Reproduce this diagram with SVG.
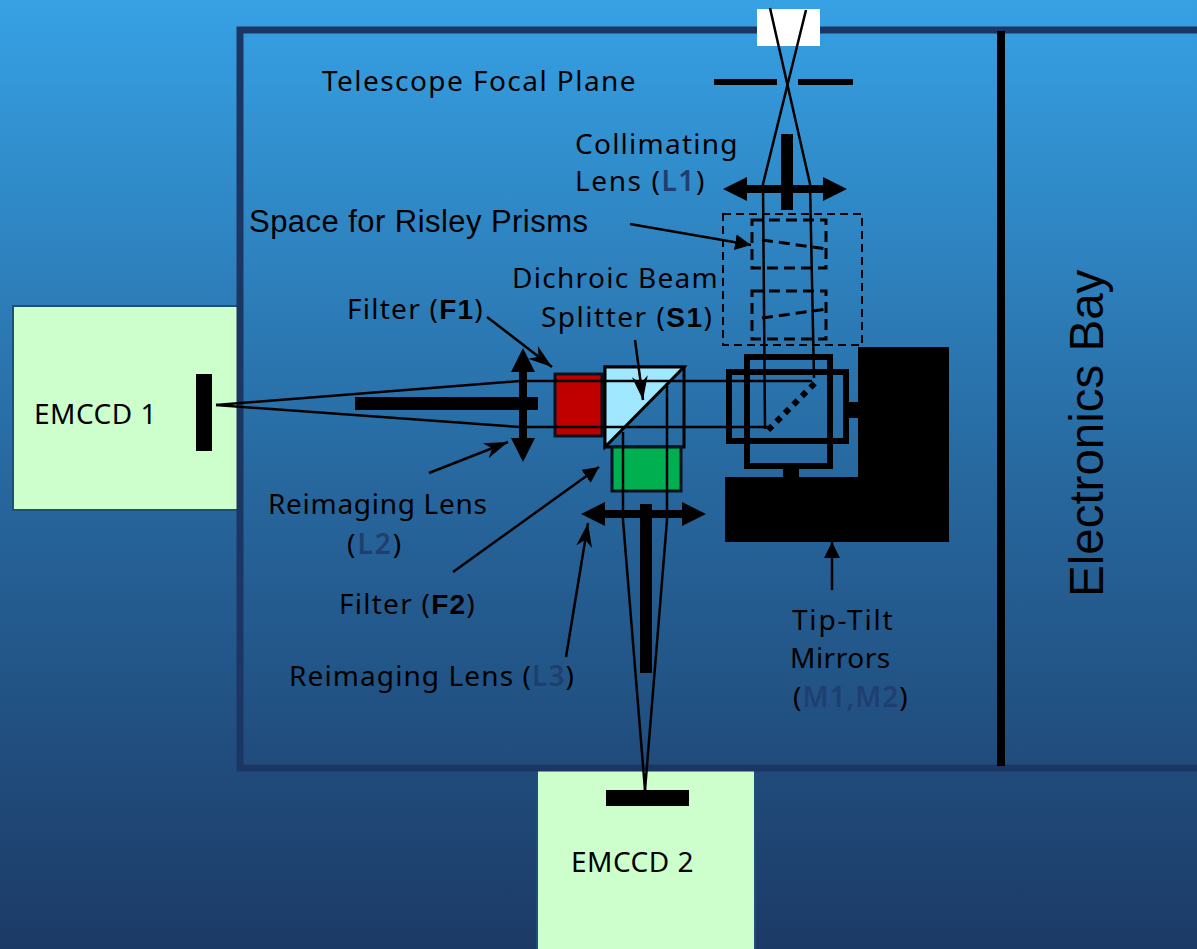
<svg xmlns="http://www.w3.org/2000/svg" width="1197" height="949" viewBox="0 0 1197 949">
<defs>
<linearGradient id="bg" x1="0" y1="0" x2="0" y2="1"><stop offset="0" stop-color="#36a1e4"/><stop offset="0.5" stop-color="#27689f"/><stop offset="1" stop-color="#1c3a66"/></linearGradient>
<marker id="ah" markerUnits="userSpaceOnUse" markerWidth="26" markerHeight="20" refX="24" refY="9" orient="auto"><path d="M0,1L24,9L0,17L7,9Z" fill="#000"/></marker>
<marker id="tr" markerUnits="userSpaceOnUse" markerWidth="18" markerHeight="18" refX="16" refY="8" orient="auto"><path d="M0,0L16,8L0,16Z" fill="#000"/></marker>
</defs>
<style>
text{font-family:"Noto Sans","Open Sans",sans-serif;font-size:28px;fill:#000;letter-spacing:1.25px}
.a{font-family:"Liberation Sans",Arial,sans-serif;letter-spacing:0}
.b{font-weight:700;font-family:"Liberation Sans",Arial,sans-serif}
.n{fill:#1f3f70;font-weight:600}
.k{fill:#000;stroke:none}
.beam{fill:none;stroke:#000;stroke-width:2.5}
.dash{fill:none;stroke:#000;stroke-width:2;stroke-dasharray:8 5}
.dash2{fill:none;stroke:#000;stroke-width:3;stroke-dasharray:11 6}
.ptr{stroke:#000;stroke-width:2.5;fill:none;marker-end:url(#ah)}
.ptt{stroke:#000;stroke-width:2.5;fill:none;marker-end:url(#tr)}
.frame{fill:none;stroke:#000;stroke-width:6}
.cam{fill:#ccffcc;stroke:#1f4e79;stroke-width:2}
</style>
<rect width="1197" height="949" fill="url(#bg)"/>
<g id="emccd1"><rect class="cam" x="13" y="306" width="225" height="204"/><rect class="k" x="196" y="374" width="16" height="77"/><text x="34" y="424" style="letter-spacing:.5px">EMCCD 1</text></g>
<g id="emccd2"><rect class="cam" x="537" y="770" width="218" height="190"/><rect class="k" x="606" y="790" width="83" height="16"/><text x="571" y="872" style="letter-spacing:.5px">EMCCD 2</text></g>
<g id="enclosure"><path d="M1197,30H240V768H1197" fill="none" stroke="#1c3664" stroke-width="7"/><rect class="k" x="997" y="31" width="8" height="735"/></g>
<g id="aperture"><rect x="757" y="9" width="63" height="37" fill="#fff"/><rect class="k" x="714" y="79" width="63" height="6"/><rect class="k" x="798" y="79" width="55" height="6"/><text x="322" y="91" style="letter-spacing:1.45px">Telescope Focal Plane</text></g>
<g id="filter1"><rect x="555" y="374" width="47" height="62" fill="#c00000" stroke="#06121f" stroke-width="3"/><text x="347" y="319">Filter (<tspan class="b">F1</tspan>)</text></g>
<g id="splitter"><rect x="605" y="367" width="79" height="80" fill="none" stroke="#000" stroke-width="3"/><path d="M605,367H684L605,447Z" fill="#9fe8ff" stroke="#000" stroke-width="3"/><text x="512" y="288" style="letter-spacing:1.3px">Dichroic Beam</text><text x="541" y="327" style="letter-spacing:1.5px">Splitter (<tspan class="b">S1</tspan>)</text></g>
<g id="filter2"><rect x="612" y="447" width="69" height="44" fill="#00b050" stroke="#06121f" stroke-width="3"/><text x="339" y="614">Filter (<tspan class="b">F2</tspan>)</text></g>
<g id="connectors">
<path class="beam" d="M770,8L810,184L814,378"/><path class="beam" d="M806,10L763,184L765,429"/>
<path class="beam" d="M216,405L520,381H812"/><path class="beam" d="M216,405L520,427H768"/>
<path class="beam" d="M623,432V520L645,790"/><path class="beam" d="M667,383V520L645,790"/>
<line class="ptt" x1="630" y1="224" x2="751" y2="245"/>
<line class="ptr" x1="487" y1="317" x2="552" y2="367"/>
<line class="ptr" x1="635" y1="340" x2="643" y2="400"/>
<line class="ptr" x1="429" y1="473" x2="508" y2="442"/>
<line class="ptt" x1="453" y1="572" x2="599" y2="467"/>
<line class="ptr" x1="566" y1="657" x2="588" y2="523"/>
<line class="ptt" x1="832" y1="590" x2="832" y2="542"/>
</g>
<g id="lens-l1"><rect class="k" x="781" y="134" width="12" height="76"/><path class="k" d="M723,189L747,177V185H823V177L847,189L823,201V193H747V201Z"/><text x="575" y="154">Collimating</text><text x="575" y="191" style="letter-spacing:1.6px">Lens (<tspan class="n">L1</tspan>)</text></g>
<g id="risley"><rect class="dash" x="723" y="214" width="139" height="131"/><rect class="dash2" x="752" y="220" width="74" height="48"/><rect class="dash2" x="752" y="291" width="74" height="48"/><line class="dash2" x1="762" y1="240" x2="827" y2="249"/><line class="dash2" x1="762" y1="318" x2="827" y2="309"/><text class="a" x="249" y="232" style="font-size:31px;letter-spacing:.45px">Space for Risley Prisms</text></g>
<g id="lens-l2"><rect class="k" x="355" y="397" width="183" height="13"/><path class="k" d="M523,348L535,372H527V438H535L523,462L511,438H519V372H511Z"/><text x="268" y="514" style="letter-spacing:.7px">Reimaging Lens</text><text x="347" y="554" style="letter-spacing:2px">(<tspan class="n">L2</tspan>)</text></g>
<g id="lens-l3"><rect class="k" x="640" y="504" width="12" height="169"/><path class="k" d="M581,514L605,502V510H682V502L706,514L682,526V518H605V526Z"/><text x="289" y="686" style="letter-spacing:1.1px">Reimaging Lens (<tspan class="n">L3</tspan>)</text></g>
<g id="mirrors"><rect class="k" x="858" y="347" width="91" height="195"/><rect class="k" x="725" y="477" width="224" height="65"/><rect class="k" x="783" y="468" width="16" height="10"/><rect class="k" x="848" y="402" width="11" height="16"/><rect class="frame" x="729" y="372" width="117" height="69"/><rect class="frame" x="747" y="357" width="83" height="109"/><line x1="768" y1="430" x2="816" y2="382" stroke="#000" stroke-width="6" stroke-dasharray="6 6"/><text x="792" y="630" style="letter-spacing:1.8px">Tip-Tilt</text><text x="790" y="668" style="letter-spacing:.5px">Mirrors</text><text x="793" y="707" style="letter-spacing:1px">(<tspan class="n">M1,M2</tspan>)</text></g>
<g id="electronics"><text class="a" transform="translate(1103,597) rotate(-90)" style="font-size:47.5px">Electronics Bay</text></g>
</svg>
